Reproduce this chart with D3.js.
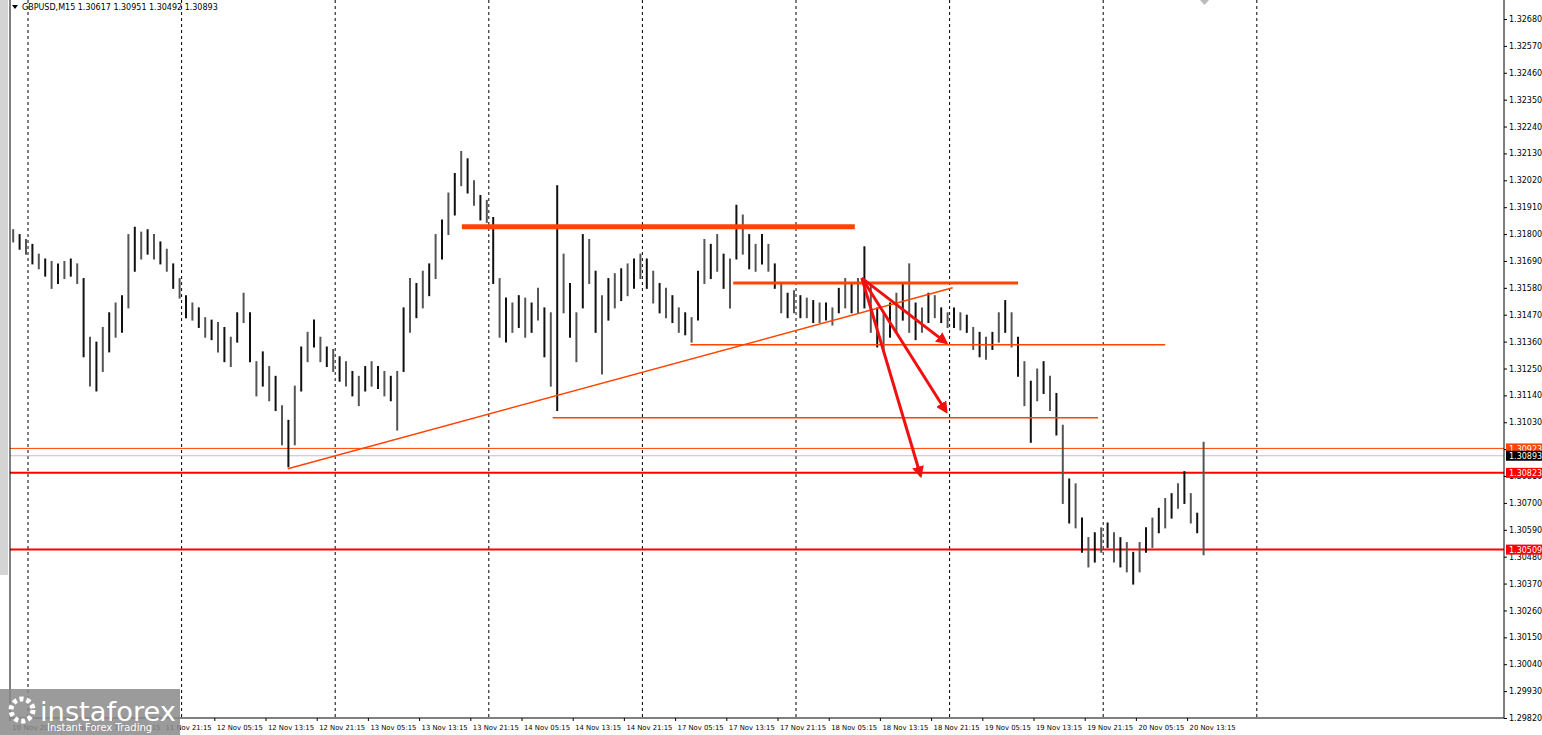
<!DOCTYPE html>
<html><head><meta charset="utf-8">
<script src="https://cdn.jsdelivr.net/npm/d3@7"></script>
<style>body{margin:0;background:#fff;overflow:hidden}text{font-family:Tahoma,"DejaVu Sans",sans-serif}</style>
</head><body>
<script>
// hourly bars: [high, low]
const highs = [1.3182,1.3180,1.3178,1.3176,1.3172,1.3170,1.3169,1.3168,1.3169,1.3170,1.3168,1.3162,1.3138,1.3136,1.3142,1.3148,1.3152,1.3155,1.3180,1.3183,
 1.3181,1.3182,1.3180,1.3177,1.3174,1.3168,1.3162,1.3155,1.3152,1.3150,1.3146,1.3145,1.3144,1.3142,1.3138,1.3148,1.3156,1.3148,1.3128,1.3132,
 1.3126,1.3122,1.3110,1.3104,1.3118,1.3134,1.3140,1.3145,1.3138,1.3134,1.3133,1.3130,1.3128,1.3124,1.3122,1.3126,1.3128,1.3126,1.3124,1.3122,
 1.3124,1.3150,1.3162,1.3160,1.3165,1.3168,1.3180,1.3186,1.3197,1.3205,1.3214,1.3211,1.3202,1.3196,1.3194,1.3187,1.3162,1.3154,1.3152,1.3155,
 1.3154,1.3152,1.3158,1.3150,1.3148,1.3200,1.3172,1.3160,1.3148,1.3180,1.3178,1.3165,1.3155,1.3162,1.3164,1.3166,1.3168,1.3170,1.3172,1.3170,
 1.3165,1.3160,1.3158,1.3155,1.3150,1.3148,1.3146,1.3165,1.3178,1.3176,1.3180,1.3172,1.3170,1.3192,1.3188,1.3180,1.3176,1.3180,1.3176,1.3168,
 1.3160,1.3156,1.3157,1.3155,1.3154,1.3153,1.3152,1.3152,1.3150,1.3158,1.3162,1.3160,1.3162,1.3175,1.3160,1.3150,1.3148,1.3152,1.3156,1.3160,
 1.3168,1.3152,1.3150,1.3156,1.3155,1.3150,1.3148,1.3150,1.3148,1.3147,1.3142,1.3140,1.3138,1.3140,1.3148,1.3153,1.3148,1.3138,1.3128,1.3120,
 1.3125,1.3128,1.3122,1.3115,1.3102,1.3080,1.3078,1.3064,1.3056,1.3058,1.3060,1.3062,1.3058,1.3056,1.3054,1.3050,1.3054,1.3060,1.3064,1.3068,
 1.3072,1.3074,1.3078,1.3083,1.3074,1.3066,1.3095];
const lows = [1.3177,1.3174,1.3172,1.3168,1.3166,1.3163,1.3158,1.3160,1.3162,1.3163,1.3160,1.3130,1.3118,1.3116,1.3124,1.3132,1.3138,1.3140,1.3150,1.3165,
 1.3170,1.3172,1.3170,1.3168,1.3165,1.3158,1.3154,1.3146,1.3145,1.3142,1.3138,1.3137,1.3132,1.3128,1.3126,1.3136,1.3144,1.3128,1.3114,1.3118,
 1.3112,1.3108,1.3094,1.3085,1.3094,1.3116,1.3128,1.3134,1.3128,1.3126,1.3124,1.3120,1.3118,1.3114,1.3110,1.3116,1.3118,1.3117,1.3114,1.3112,
 1.3100,1.3124,1.3140,1.3146,1.3150,1.3155,1.3162,1.3170,1.3180,1.3188,1.3200,1.3197,1.3192,1.3186,1.3185,1.3160,1.3138,1.3136,1.3140,1.3142,
 1.3138,1.3140,1.3145,1.3130,1.3118,1.3108,1.3148,1.3138,1.3128,1.3150,1.3160,1.3140,1.3123,1.3145,1.3150,1.3153,1.3155,1.3158,1.3162,1.3158,
 1.3152,1.3148,1.3146,1.3144,1.3140,1.3139,1.3136,1.3145,1.3160,1.3162,1.3165,1.3158,1.3150,1.3170,1.3172,1.3166,1.3165,1.3168,1.3165,1.3158,
 1.3148,1.3146,1.3148,1.3146,1.3146,1.3144,1.3144,1.3145,1.3143,1.3148,1.3150,1.3148,1.3148,1.3150,1.3140,1.3134,1.3133,1.3138,1.3140,1.3145,
 1.3140,1.3137,1.3140,1.3144,1.3146,1.3144,1.3142,1.3142,1.3141,1.3140,1.3133,1.3130,1.3129,1.3133,1.3136,1.3140,1.3134,1.3122,1.3110,1.3095,
 1.3112,1.3115,1.3108,1.3098,1.3070,1.3062,1.3060,1.3050,1.3044,1.3046,1.3050,1.3052,1.3046,1.3044,1.3042,1.3037,1.3042,1.3050,1.3052,1.3058,
 1.3060,1.3064,1.3068,1.3070,1.3062,1.3058,1.3049];
const timeLabels = ["10 Nov 2020","11 Nov 05:15","11 Nov 13:15","11 Nov 21:15","12 Nov 05:15","12 Nov 13:15","12 Nov 21:15","13 Nov 05:15",
 "13 Nov 13:15","13 Nov 21:15","14 Nov 05:15","14 Nov 13:15","14 Nov 21:15","17 Nov 05:15","17 Nov 13:15","17 Nov 21:15","18 Nov 05:15",
 "18 Nov 13:15","18 Nov 21:15","19 Nov 05:15","19 Nov 13:15","19 Nov 21:15","20 Nov 05:15","20 Nov 13:15"];
const priceTicks = d3.range(27).map(i => +(1.29820 + i * 0.0011).toFixed(5));
// drawn objects, in [bar index, price]
const hLines = [ // [from, to, price, color, width]
  [70.6, 132, 1.31830, "#ff4500", 5],
  [113, 157.5, 1.31600, "#ff4500", 3],
  [106.3, 180.5, 1.31347, "#ff4500", 1.5],
  [84.8, 170, 1.31048, "#ff4500", 1.5]];
const levels = [ // full-width levels: [price, color, width, labelBg]
  [1.30923, "#ff4500", 1, "#ff4500"],
  [1.30893, "#c0c0c0", 1, "#000"],
  [1.30823, "#ff0000", 2, "#ff0000"],
  [1.30509, "#ff0000", 2, "#ff0000"]];
const trend = [[43.4, 1.30840], [147.3, 1.31580]];
const arrows = [[133.1, 1.31620], [[146.3, 1.31355], [146.3, 1.31073], [142.3, 1.30810]]];

const W = 1542, H = 735, L = 10, R = 1504, T = 0, B = 718;
const svg = d3.select("body").append("svg").attr("width", W).attr("height", H);
const x = d3.scaleLinear().domain([0, 1]).range([L, L + 6.4]);
const y = d3.scaleLinear().domain([1.29820, 1.32680]).range([B, 19]);

svg.append("rect").attr("x", 0).attr("y", 0).attr("width", 8).attr("height", 575).attr("fill", "#d4d4d4");

// vertical dashed grid
const grid = d3.range(2.8125, 200, 24);
svg.selectAll(".g").data(grid).join("line")
  .attr("x1", d => x(d)).attr("x2", d => x(d)).attr("y1", T).attr("y2", B)
  .attr("stroke", "#000").attr("stroke-dasharray", "3,3").attr("stroke-width", 1);

// levels
svg.selectAll(".lv").data(levels).join("line")
  .attr("x1", L).attr("x2", R).attr("y1", d => y(d[0])).attr("y2", d => y(d[0]))
  .attr("stroke", d => d[1]).attr("stroke-width", d => d[2]);

// bars
svg.selectAll(".bar").data(highs).join("line")
  .attr("x1", (d, i) => x(i + 0.5)).attr("x2", (d, i) => x(i + 0.5))
  .attr("y1", d => y(d)).attr("y2", (d, i) => y(lows[i]) + 1)
  .attr("stroke", (d, i) => i % 2 ? "#111" : "#555").attr("stroke-width", 2);

svg.selectAll(".hl").data(hLines).join("line")
  .attr("x1", d => x(d[0])).attr("x2", d => x(d[1])).attr("y1", d => y(d[2])).attr("y2", d => y(d[2]))
  .attr("stroke", d => d[3]).attr("stroke-width", d => d[4]);
svg.append("line").attr("x1", x(trend[0][0])).attr("y1", y(trend[0][1]))
  .attr("x2", x(trend[1][0])).attr("y2", y(trend[1][1])).attr("stroke", "#ff4500").attr("stroke-width", 1.5);

// arrows
const defs = svg.append("defs");
defs.append("marker").attr("id", "ah").attr("viewBox", "0 0 10 10").attr("refX", 8).attr("refY", 5)
  .attr("markerWidth", 4).attr("markerHeight", 4).attr("orient", "auto")
  .append("path").attr("d", "M0,0L10,5L0,10z").attr("fill", "#f01010");
svg.selectAll(".ar").data(arrows[1]).join("line")
  .attr("x1", x(arrows[0][0])).attr("y1", y(arrows[0][1]))
  .attr("x2", d => x(d[0])).attr("y2", d => y(d[1]))
  .attr("stroke", "#f01010").attr("stroke-width", 3).attr("marker-end", "url(#ah)");

// frame
svg.append("path").attr("d", `M${L},${T}V${B}H${R}V${T}`).attr("fill", "none").attr("stroke", "#000");

// price axis
const pa = svg.append("g").attr("transform", `translate(${R},0)`)
  .call(d3.axisRight(y).tickValues(priceTicks).tickSize(3).tickFormat(d3.format(".5f")));
pa.select(".domain").remove();
pa.selectAll("text").attr("font-size", 8).attr("x", 5).attr("fill", "#000");
levels.forEach(d => {
  const g = svg.append("g").attr("transform", `translate(${R + 2},${y(d[0])})`);
  g.append("rect").attr("x", 0).attr("y", -5).attr("width", 36).attr("height", 10).attr("fill", d[3]);
  g.append("text").attr("x", 3).attr("y", 3.5).attr("font-size", 8).attr("fill", "#fff").text(d3.format(".5f")(d[0]));
});

// time axis
const tg = svg.append("g").attr("transform", `translate(0,${B})`);
timeLabels.forEach((t, i) => {
  const xx = x(i * 8);
  tg.append("line").attr("x1", xx).attr("x2", xx).attr("y1", 0).attr("y2", 3).attr("stroke", "#000");
  tg.append("text").attr("x", xx + 2).attr("y", 12).attr("font-size", 7)
    .attr("textLength", 46).attr("lengthAdjust", "spacingAndGlyphs").text(t);
});

// header
svg.append("path").attr("d", "M12,5L18,5L15,9z").attr("fill", "#000");
svg.append("text").attr("x", 22).attr("y", 10).attr("font-size", 8)
  .text("GBPUSD,M15  1.30617 1.30951 1.30492 1.30893");
svg.append("path").attr("d", "M1200,0L1209,0L1204.5,5z").attr("fill", "#bbb");

// watermark
const wm = svg.append("g");
wm.append("rect").attr("x", 0).attr("y", 689).attr("width", 180).attr("height", 46).attr("fill", "#8a8a8a").attr("opacity", 0.85);
wm.append("circle").attr("cx", 22).attr("cy", 710).attr("r", 11).attr("fill", "none").attr("stroke", "#fff").attr("stroke-width", 5).attr("stroke-dasharray", "4,3");
wm.append("text").attr("x", 40).attr("y", 721).attr("font-size", 27).attr("fill", "#fff").attr("font-family", "Lato,sans-serif")
  .attr("textLength", 136).attr("lengthAdjust", "spacingAndGlyphs").text("instaforex");
wm.append("text").attr("x", 47).attr("y", 731).attr("font-size", 10).attr("fill", "#fff").text("Instant Forex Trading");
</script>
</body></html>
